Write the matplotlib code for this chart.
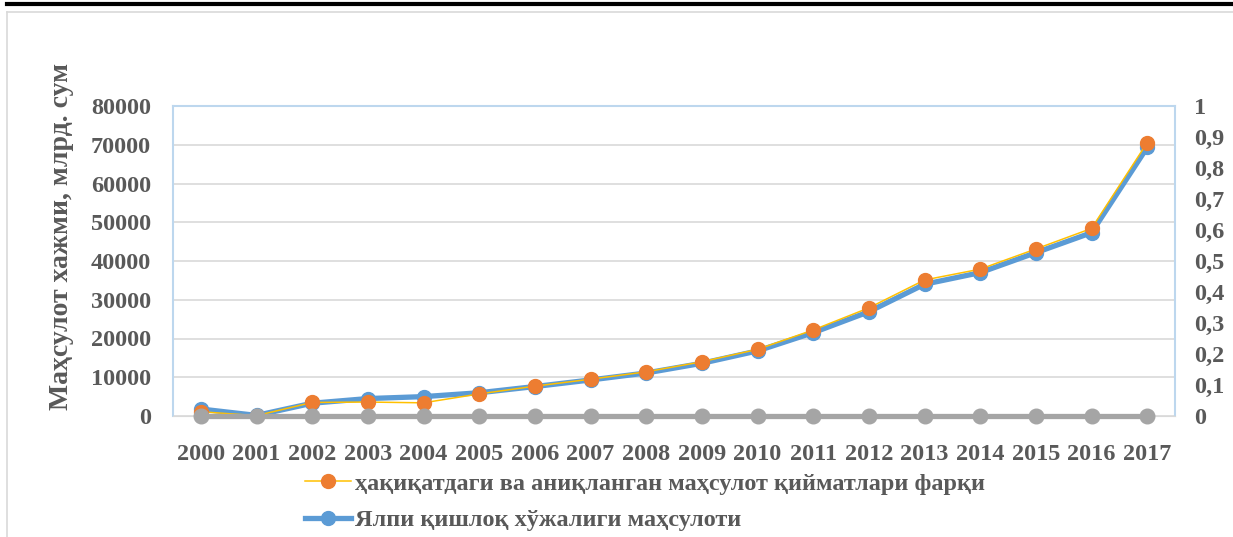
import matplotlib.pyplot as plt
from matplotlib.lines import Line2D
from matplotlib.ticker import FuncFormatter

# data
years = [str(y) for y in range(2000, 2018)]
gross_output = [1800, 150, 3300, 4500, 5000, 6000, 7600, 9300, 11100, 13600,
                16800, 21500, 26900, 34000, 37000, 42150, 47300, 69300]
difference = [1100, 100, 3500, 3600, 3400, 5700, 7700, 9500, 11400, 14000,
              17200, 22200, 27900, 35100, 37900, 43100, 48400, 70500]
zero_series = [0] * 18

label_orange = "ҳақиқатдаги ва аниқланган маҳсулот қийматлари фарқи"
label_blue = "Ялпи қишлоқ хўжалиги маҳсулоти"
y_label = "Маҳсулот хажми, млрд. сум"

text_col = "#595959"
font = "Liberation Serif"
tick_size = 17.5

fig = plt.figure(figsize=(12.33, 5.37), dpi=100)
ax = fig.add_axes([173/1233, 1-416/537, (1175-173)/1233, (416-106)/537])

x = list(range(len(years)))
ax.plot(x, gross_output, color="#5B9BD5", lw=3.8, marker="o", ms=10,
        mfc="#5B9BD5", mec="#5B9BD5", label=label_blue, zorder=3)
ax.plot(x, difference, color="#FFC000", lw=1.1, marker="o", ms=10,
        mfc="#ED7D31", mec="#ED7D31", label=label_orange, zorder=4)
ax.plot(x, zero_series, color="#A5A5A5", lw=3.8, marker="o", ms=10.5,
        mfc="#A5A5A5", mec="#A5A5A5", zorder=5, clip_on=False)

ax.set_xlim(-0.5, len(years) - 0.5)
ax.set_ylim(0, 80000)
ax.set_yticks(range(0, 80001, 10000))
ax.set_xticks(x)
ax.set_xticklabels(years)
ax.grid(axis="y", color="#D9D9D9", lw=1.2)
ax.set_axisbelow(True)
ax.tick_params(length=0, labelsize=tick_size, labelcolor=text_col, pad=16)
ax.tick_params(axis="x", pad=20)
for lbl in ax.get_xticklabels() + ax.get_yticklabels():
    lbl.set_fontfamily(font)
    lbl.set_fontweight("bold")

for side in ["left", "top", "right"]:
    ax.spines[side].set_color("#BDD7EE")
    ax.spines[side].set_linewidth(1.5)
ax.spines["bottom"].set_color("#D9D9D9")

ax.set_ylabel(y_label, fontsize=20, fontweight="bold", family=font,
              color=text_col)
ax.yaxis.set_label_coords(-0.099, 0.58)

ax2 = ax.twinx()
ax2.set_ylim(0, 1)
ax2.set_yticks([i / 10 for i in range(11)])
ax2.yaxis.set_major_formatter(FuncFormatter(
    lambda v, p: "0" if v == 0 else ("1" if v == 1 else f"{v:.1f}".replace(".", ","))))
ax2.tick_params(length=0, labelsize=tick_size, labelcolor=text_col, pad=14)
for lbl in ax2.get_yticklabels():
    lbl.set_fontfamily(font)
    lbl.set_fontweight("bold")
    lbl.set_horizontalalignment("left")
for side in ax2.spines:
    ax2.spines[side].set_visible(False)

handles, labels = ax.get_legend_handles_labels()
leg = fig.legend(handles[::-1], labels[::-1], loc="upper left",
                 bbox_to_anchor=(283/1233, 1-451/537), frameon=False,
                 prop={"family": font, "weight": "bold", "size": 17.5},
                 handlelength=1.9, handletextpad=0.15, labelspacing=0.6)
for t in leg.get_texts():
    t.set_color(text_col)

# outer frame lines
fig.add_artist(Line2D([7/1233, 1], [1-4/537, 1-4/537], color="black", lw=3))
fig.add_artist(Line2D([7/1233, 1], [1-12/537, 1-12/537], color="#D9D9D9", lw=1.2))
fig.add_artist(Line2D([7/1233, 7/1233], [0, 1-12/537], color="#D9D9D9", lw=1.2))

plt.savefig("out.png", dpi=100)
